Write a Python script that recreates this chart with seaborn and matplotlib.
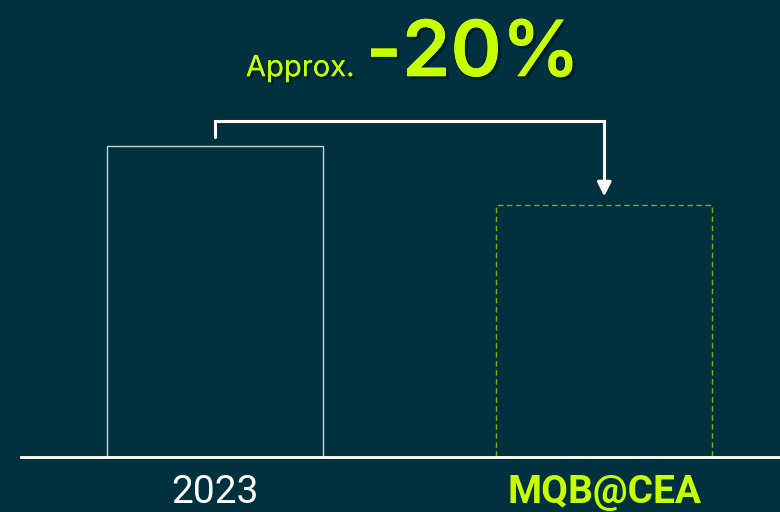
import matplotlib
matplotlib.use("Agg")
import matplotlib.pyplot as plt
import matplotlib.patheffects as pe
from matplotlib import font_manager
import seaborn as sns
import pandas as pd

categories = ["2023", "MQB@CEA"]
values = [100, 81]
change_label = "-20%"
prefix_label = "Approx."

BG = "#01303f"
GREEN = "#c8ff00"
DASH_GREEN = "#7fae12"
EDGE_WHITE = "#c9d2d6"

sns.set_theme(style="white")
names = {f.name for f in font_manager.fontManager.ttflist}
narrow = "Liberation Sans Narrow" if "Liberation Sans Narrow" in names else "Roboto"
plt.rcParams["font.family"] = ["Inter", "DejaVu Sans"]

fig = plt.figure(figsize=(7.8, 5.12), dpi=100, facecolor=BG)
ax = fig.add_axes([21 / 780, 55 / 512, 1 - 21 / 780, 457 / 512])
ax.set_facecolor(BG)

df = pd.DataFrame({"cat": categories, "val": values})
sns.barplot(data=df, x="cat", y="val", ax=ax, width=0.554, fill=False,
            errorbar=None, linewidth=1)

styles = [dict(ec=EDGE_WHITE, ls="-"), dict(ec=DASH_GREEN, ls=(0, (4, 2.5)))]
for p, st in zip(ax.patches, styles):
    p.set_edgecolor(st["ec"])
    p.set_linestyle(st["ls"])
    p.set_linewidth(1)
    p.set_facecolor("none")

ax.set_xlim(-0.497, 1.451)
ax.set_ylim(0, 147)
for s in ["top", "right", "left"]:
    ax.spines[s].set_visible(False)
ax.spines["bottom"].set_color("white")
ax.spines["bottom"].set_linewidth(2)
ax.set_yticks([])
ax.set_xlabel("")
ax.set_ylabel("")
ax.tick_params(axis="x", length=0, pad=12)
ax.set_xticks([0, 1])
ax.set_xticklabels(categories)
tl = ax.get_xticklabels()
tl[0].set_color("white")
tl[0].set_fontfamily([narrow, "DejaVu Sans"])
tl[0].set_fontsize(28)
tl[1].set_color(GREEN)
tl[1].set_fontfamily([narrow, "DejaVu Sans"])
tl[1].set_fontsize(28)
tl[1].set_fontweight("bold")

# bracket arrow
top_y = max(values) * 1.08
ax.plot([0, 0, 1, 1], [max(values) * 1.029, top_y, top_y, values[1] * 1.08],
        color="white", lw=2.2, solid_joinstyle="miter", clip_on=False)
ax.annotate("", xy=(1, values[1] * 1.035), xytext=(1, values[1] * 1.09),
            arrowprops=dict(arrowstyle="-|>,head_length=0.7,head_width=0.35",
                            color="white", lw=2.2, shrinkA=0, shrinkB=0))

shadow = [pe.withSimplePatchShadow(offset=(2, -2), shadow_rgbFace="black", alpha=0.35), pe.Normal()]
ax.text(0.359, 122.5, prefix_label, color=GREEN, fontsize=21, ha="right",
        va="baseline", path_effects=shadow)
ax.text(0.388, 122.5, change_label, color=GREEN, fontsize=56, fontweight="semibold",
        ha="left", va="baseline", path_effects=shadow)

fig.savefig("out.png", dpi=100, facecolor=BG)
